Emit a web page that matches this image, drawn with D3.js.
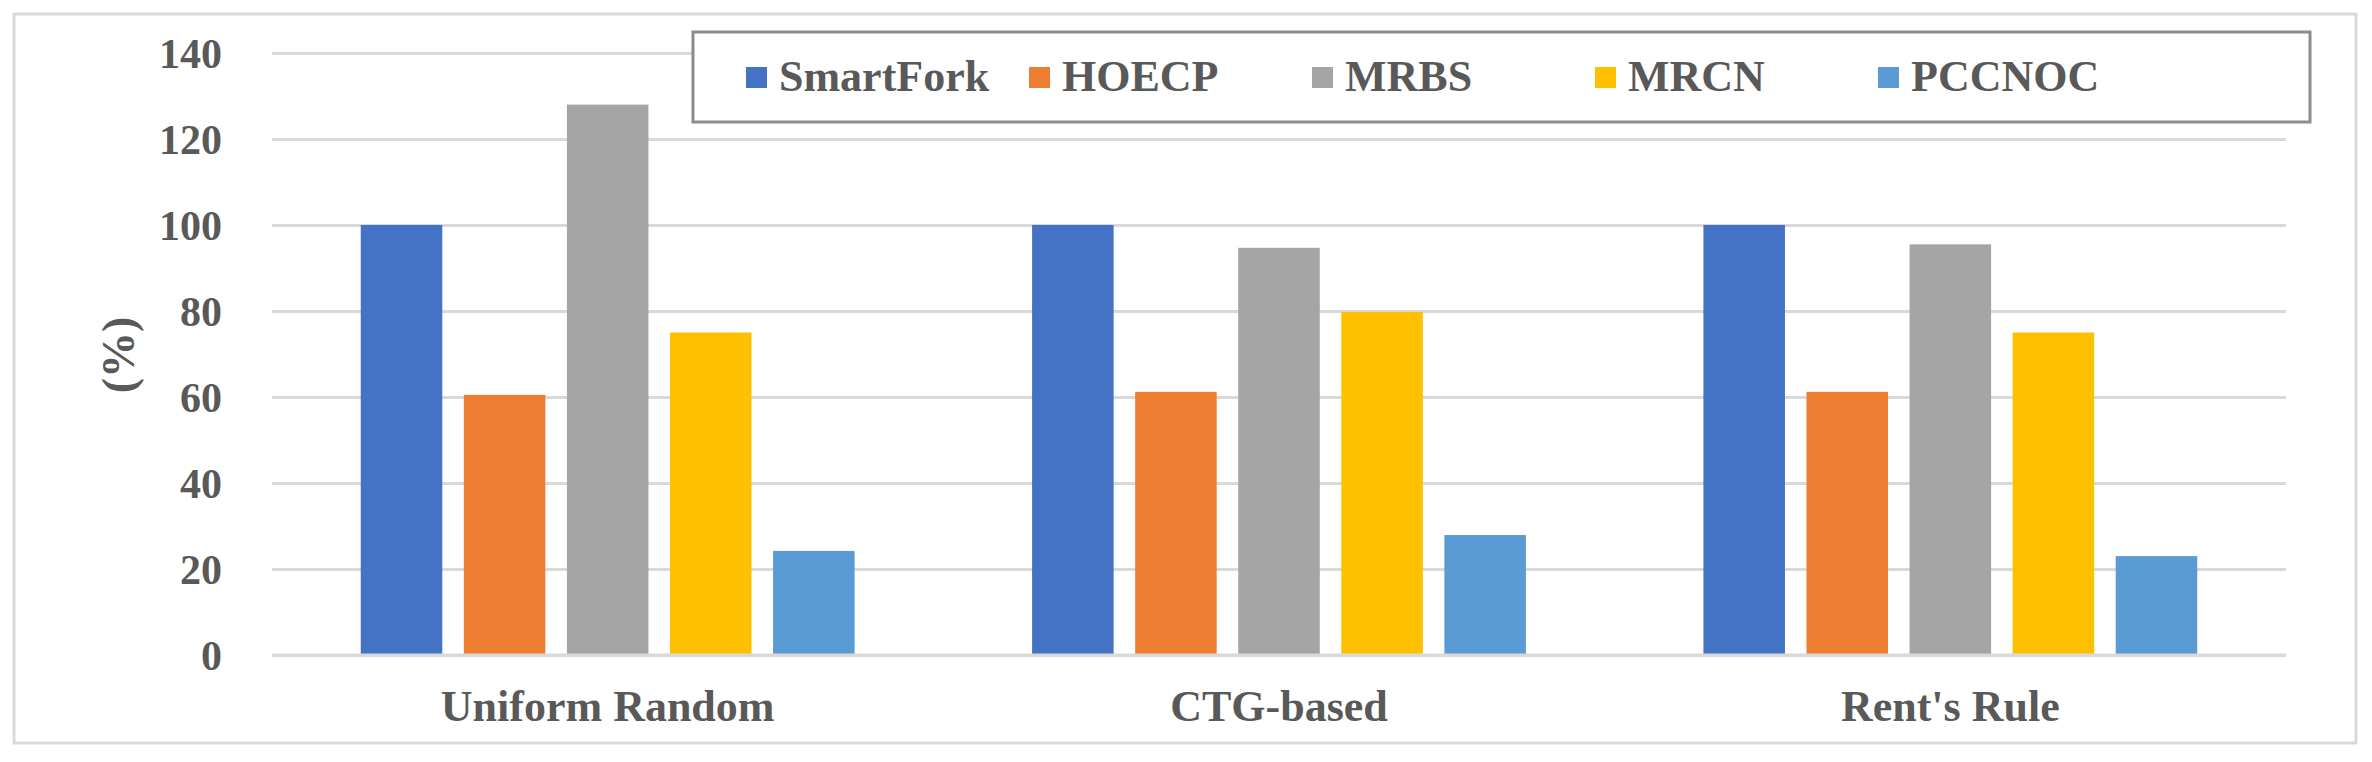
<!DOCTYPE html>
<html>
<head>
<meta charset="utf-8">
<script src="https://cdn.jsdelivr.net/npm/d3@7"></script>
<style>
  html, body { margin: 0; padding: 0; background: #ffffff; }
  svg { display: block; }
  text { font-family: "Liberation Serif", "Times New Roman", serif; font-weight: bold; fill: #595959; }
</style>
</head>
<body>
<svg id="chart" width="2372" height="762"></svg>
<script>
// ---- data ----
const categories = ["Uniform Random", "CTG-based", "Rent's Rule"];
const seriesNames = ["SmartFork", "HOECP", "MRBS", "MRCN", "PCCNOC"];
const smartFork = [100, 100, 100];
const hoecp = [60.5, 61.2, 61.2];
const mrbs = [128, 94.7, 95.5];
const mrcn = [75, 79.8, 75];
const pccnoc = [24.2, 27.9, 23];
const yTicks = [0, 20, 40, 60, 80, 100, 120, 140];
const yLabel = "(%)";

const seriesValues = [smartFork, hoecp, mrbs, mrcn, pccnoc];
const colors = ["#4472C4", "#ED7D31", "#A5A5A5", "#FFC000", "#5B9BD5"];

// ---- layout ----
const W = 2372, H = 762;
const plot = { left: 272, right: 2286, top: 53, bottom: 655 };

const svg = d3.select("#chart");

// outer border
svg.append("rect")
  .attr("x", 14).attr("y", 14)
  .attr("width", 2356 - 14).attr("height", 743 - 14)
  .attr("fill", "#ffffff")
  .attr("stroke", "#d9d9d9").attr("stroke-width", 3);

const y = d3.scaleLinear().domain([0, 140]).range([plot.bottom, plot.top]);
const x0 = d3.scaleBand().domain(categories).range([plot.left, plot.right]).padding(0);
const outerPad = 88.75;
const x1 = d3.scaleBand().domain(seriesNames)
  .range([outerPad, x0.bandwidth() - outerPad])
  .paddingInner(0.209).paddingOuter(0);
const color = d3.scaleOrdinal().domain(seriesNames).range(colors);

// gridlines via axis
const grid = svg.append("g")
  .attr("transform", `translate(${plot.left},0)`)
  .call(d3.axisRight(y).tickValues(yTicks).tickSize(plot.right - plot.left).tickFormat(""));
grid.select(".domain").remove();
grid.selectAll(".tick line").attr("stroke", "#d9d9d9").attr("stroke-width", 3);

// y tick labels via axis
const yAxis = svg.append("g")
  .attr("transform", `translate(222,0)`)
  .call(d3.axisLeft(y).tickValues(yTicks).tickSize(0).tickPadding(0).tickFormat(d3.format("d")));
yAxis.select(".domain").remove();
yAxis.selectAll("text")
  .attr("font-size", 42)
  .attr("font-family", "Liberation Serif, serif")
  .attr("font-weight", "bold")
  .attr("fill", "#595959")
  .attr("dy", "0.34em");

// y axis title
svg.append("text")
  .attr("transform", `translate(134,355) rotate(-90)`)
  .attr("text-anchor", "middle")
  .attr("font-size", 46)
  .text(yLabel);

// bars
const rows = categories.map((c, i) => ({
  cat: c,
  vals: seriesNames.map((s, j) => ({ key: s, value: seriesValues[j][i] }))
}));

const groups = svg.append("g").selectAll("g")
  .data(rows).join("g")
  .attr("transform", d => `translate(${x0(d.cat)},0)`);

groups.selectAll("rect")
  .data(d => d.vals).join("rect")
  .attr("x", d => x1(d.key))
  .attr("y", d => y(d.value))
  .attr("width", x1.bandwidth())
  .attr("height", d => y(0) - y(d.value))
  .attr("fill", d => color(d.key));

// baseline
svg.append("line")
  .attr("x1", plot.left).attr("x2", plot.right)
  .attr("y1", y(0)).attr("y2", y(0))
  .attr("stroke", "#d9d9d9").attr("stroke-width", 3);

// x axis labels via axis
const xAxis = svg.append("g")
  .attr("transform", `translate(0,${plot.bottom})`)
  .call(d3.axisBottom(x0).tickSize(0).tickPadding(0));
xAxis.select(".domain").remove();
xAxis.selectAll("text")
  .attr("font-size", 44)
  .attr("font-family", "Liberation Serif, serif")
  .attr("font-weight", "bold")
  .attr("fill", "#595959")
  .attr("dy", null)
  .attr("y", 66);

// legend
const legend = svg.append("g");
legend.append("rect")
  .attr("x", 693).attr("y", 32)
  .attr("width", 2310 - 693).attr("height", 122 - 32)
  .attr("fill", "#ffffff")
  .attr("stroke", "#8c8c8c").attr("stroke-width", 3);

const lx = d3.scalePoint().domain(seriesNames).range([746, 1878]);
const items = legend.selectAll("g.item")
  .data(seriesNames).join("g")
  .attr("class", "item")
  .attr("transform", d => `translate(${lx(d)},0)`);
items.append("rect")
  .attr("x", 0).attr("y", 67)
  .attr("width", 21).attr("height", 21)
  .attr("fill", d => color(d));
items.append("text")
  .attr("x", 33).attr("y", 91)
  .attr("font-size", 44)
  .text(d => d);
</script>
</body>
</html>
